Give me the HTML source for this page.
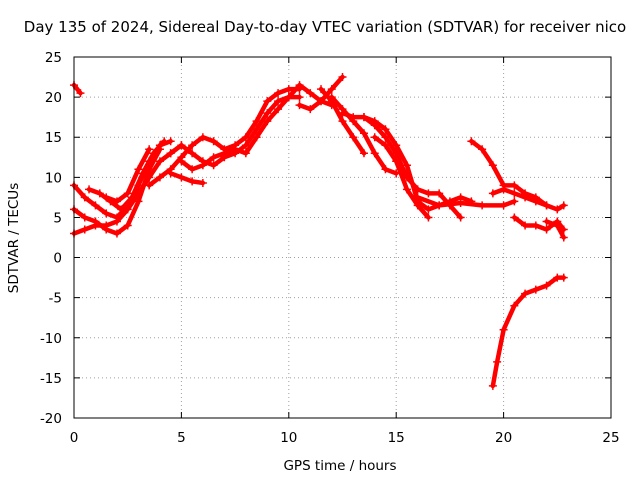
<!DOCTYPE html>
<html><head><meta charset="utf-8"><style>
body{margin:0;background:#fff;}
svg{display:block;font-family:"DejaVu Sans","Liberation Sans",sans-serif;font-size:13.5px;}
</style></head><body>
<svg id="chart" width="640" height="480">
<text x="325" y="32" text-anchor="middle" style="font-size:15px">Day 135 of 2024, Sidereal Day-to-day VTEC variation (SDTVAR) for receiver nico</text>
<text x="340" y="470" text-anchor="middle">GPS time / hours</text>
<text transform="translate(18,238) rotate(-90)" text-anchor="middle">SDTVAR / TECUs</text>
<g id="grid"></g><g id="series"></g>
<rect x="74" y="57" width="537" height="361" fill="none" stroke="#000"/>
</svg>
<script>
const xTicks=[0,5,10,15,20,25];
const yTicks=[-20,-15,-10,-5,0,5,10,15,20,25];
const tracks=[
[[0,21.5],[0.3,20.5]],
[[0,9],[0.5,7.5],[1,6.5],[1.5,5.5],[2,5],[2.5,6.5],[3,9],[3.5,12],[4,14],[4.5,14.5]],
[[0,6],[0.5,5],[1,4.5],[1.5,3.5],[2,3],[2.5,4],[3,7],[3.5,11],[4,13.5]],
[[0,3],[0.5,3.5],[1,4],[1.5,4],[2,4.5],[2.5,6],[3,8],[3.5,10],[4,12],[4.5,13],[5,14]],
[[0.7,8.5],[1.2,8],[1.7,7],[2.2,6],[2.7,7.5],[3.2,10.5],[3.7,13],[4.2,14.5]],
[[1.5,7.5],[2,7],[2.5,8],[3,11],[3.5,13.5]],
[[3.5,9],[4,10],[4.5,11],[5,12.5],[5.5,14],[6,15],[6.5,14.5],[7,13.5],[7.5,14],[8,15],[8.5,17],[9,19.5],[9.5,20.5],[10,21],[10.5,21]],
[[4.5,13],[5,14],[5.5,13],[6,12],[6.5,11.5],[7,12.5],[7.5,13],[8,14],[8.5,16],[9,18],[9.5,19.5],[10,20],[10.5,20]],
[[4.5,10.5],[5,10],[5.5,9.5],[6,9.3]],
[[5,12],[5.5,11],[6,11.5],[6.5,12.5],[7,13],[7.5,13.5],[8,13],[8.5,15],[9,17],[9.5,18.5],[10,20],[10.5,21.5],[11,20.5],[11.5,19.5],[12,19]],
[[10.5,19],[11,18.5],[11.5,19.5],[12,21],[12.5,22.5]],
[[11.5,21],[12,19.5],[12.5,17],[13,15],[13.5,13]],
[[12,20],[12.5,18.5],[13,17],[13.5,15.5],[14,13],[14.5,11],[15,10.5]],
[[12.5,18],[13,17.5],[13.5,17.5],[14,16.5],[14.5,15],[15,13],[15.5,10],[16,8.5],[16.5,8],[17,8],[17.5,6.5],[18,5]],
[[13.5,17.5],[14,17],[14.5,16],[15,14],[15.5,11.5],[16,7],[16.5,6],[17,6.5],[17.5,7],[18,7.5],[18.5,7]],
[[14,15],[14.5,14],[15,12],[15.5,8.5],[16,6.5],[16.5,5]],
[[16,7.5],[17,6.5],[18,6.8],[19,6.5],[20,6.5],[20.5,7]],
[[18.5,14.5],[19,13.5],[19.5,11.5],[20,9],[20.5,9],[21,8],[21.5,7.5],[22,6.5],[22.5,6],[22.8,6.5]],
[[19.5,8],[20,8.5],[20.5,8],[21,7.5],[21.5,7],[22,6.5]],
[[20.5,5],[21,4],[21.5,4],[22,3.5],[22.5,4.5],[22.8,3.5]],
[[22,4.5],[22.5,4],[22.8,2.5]],
[[19.5,-16],[19.7,-13],[20,-9],[20.5,-6],[21,-4.5],[21.5,-4],[22,-3.5],[22.5,-2.5],[22.8,-2.5]]
];
const NS="http://www.w3.org/2000/svg";
const X0=74,X1=611,Y0=418,Y1=57;
const sx=v=>X0+(v-0)/(25-0)*(X1-X0);
const sy=v=>Y0-(v+20)/45*(Y0-Y1);
function mk(t,a){const e=document.createElementNS(NS,t);for(const k in a)e.setAttribute(k,a[k]);return e;}
const grid=document.getElementById('grid'),ser=document.getElementById('series');
xTicks.forEach(t=>{const x=sx(t);
 const g=mk('line',{x1:x,x2:x,y1:Y1,y2:Y0,stroke:'#a0a0a0','stroke-dasharray':'1,3'});
 
 grid.appendChild(g);
 const tk=mk('path',{d:`M${x},${Y0}v-6M${x},${Y1}v6`,stroke:'#000'});
 
 grid.appendChild(tk);
 const l=mk('text',{x:x,y:Y0+24,'text-anchor':'middle'});l.textContent=t;
 
 grid.appendChild(l);});
yTicks.forEach(t=>{const y=sy(t);
 const g=mk('line',{x1:X0,x2:X1,y1:y,y2:y,stroke:'#a0a0a0','stroke-dasharray':'1,3'});
 
 grid.appendChild(g);
 const tk=mk('path',{d:`M${X0},${y}h6M${X1},${y}h-6`,stroke:'#000'});
 
 grid.appendChild(tk);
 const l=mk('text',{x:X0-12,y:y+5,'text-anchor':'end'});l.textContent=t;
 
 grid.appendChild(l);});
tracks.forEach((tr,i)=>{
 const p=mk('polyline',{points:tr.map(d=>sx(d[0])+','+sy(d[1])).join(' '),fill:'none',stroke:'#ff0000','stroke-width':4.5,'stroke-linejoin':'round','stroke-linecap':'round'});
 
 ser.appendChild(p);
 tr.forEach(d=>{const x=sx(d[0]),y=sy(d[1]);
  const m=mk('path',{d:`M${x-4},${y}h8M${x},${y-4}v8`,stroke:'#ff0000','stroke-width':1.5});
  
  ser.appendChild(m);});
});
</script>
</body></html>
